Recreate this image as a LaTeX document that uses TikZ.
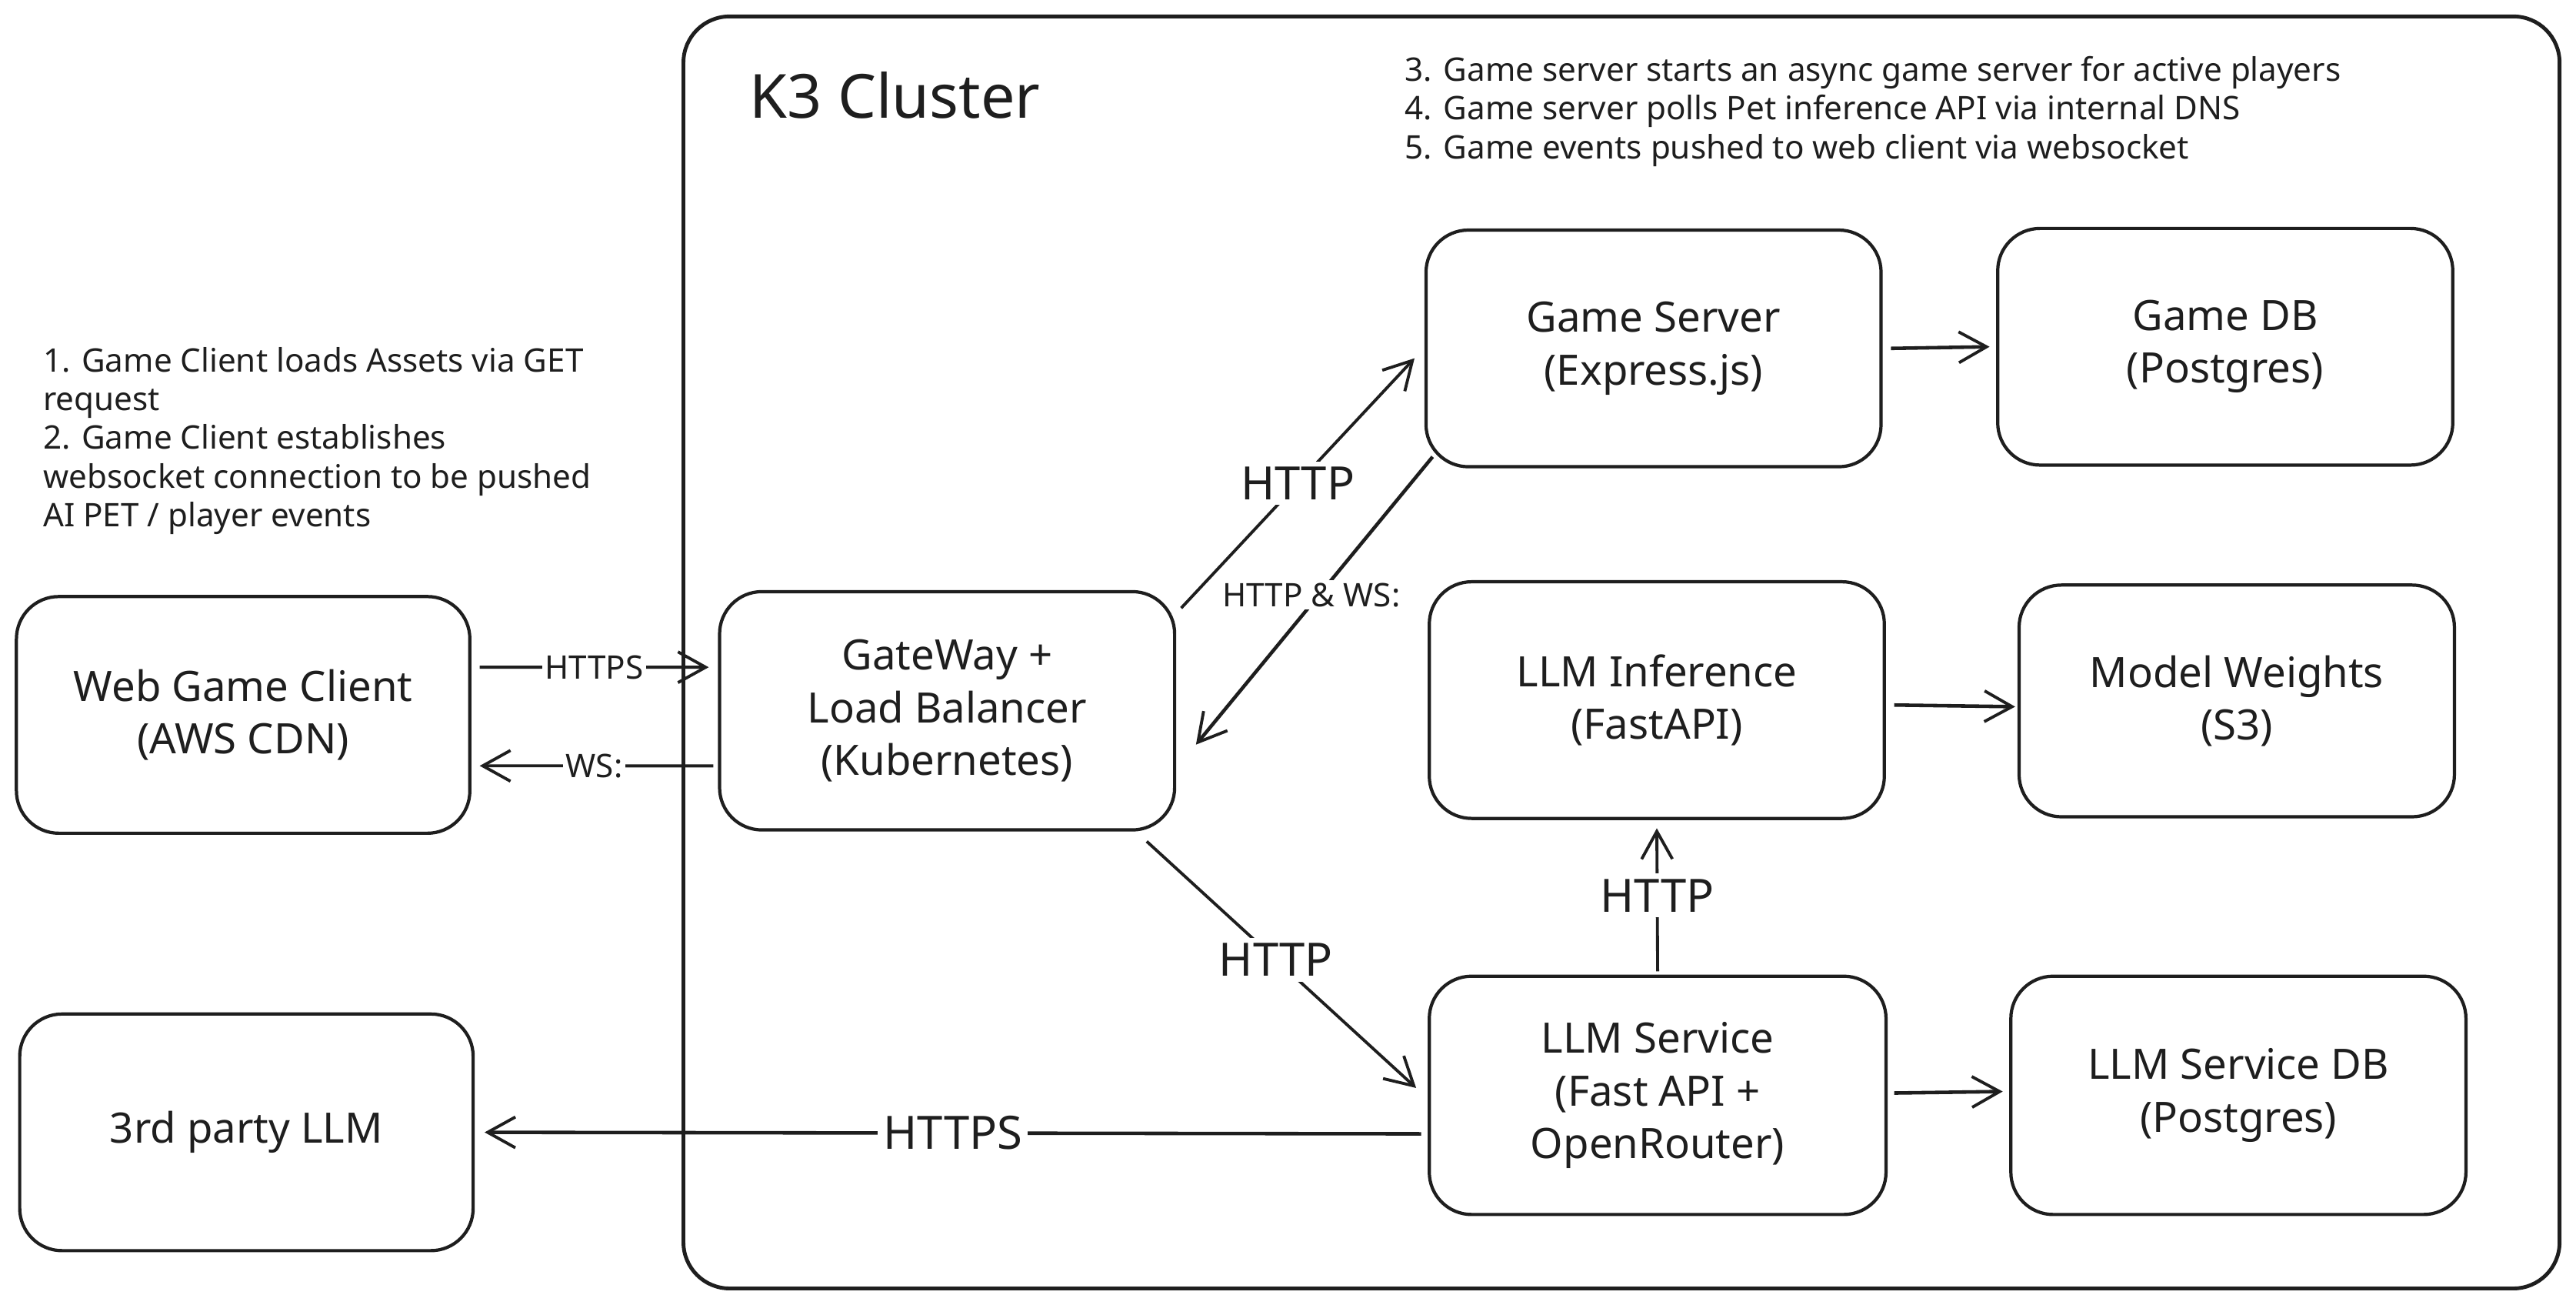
\documentclass[tikz,border=0pt]{standalone}
\usepackage{fontspec}
\setmainfont{Noto Sans}
\usetikzlibrary{arrows.meta}
\newlength\pxu
\setlength\pxu{0.2136mm}
\definecolor{ink}{HTML}{1E1E1E}
\begin{document}
\begin{tikzpicture}[x=0.2136mm, y=-0.2136mm,
  every node/.style={text=ink},
  box/.style={draw=ink, line width=1.2pt, rounded corners=5.5mm, align=center,
    font=\fontsize{15.5}{19.4}\selectfont, inner sep=0pt},
  conn/.style={draw=ink, line width=1.1pt,
    -{Straight Barb[length=3.6mm,width=4mm,line width=1.1pt]}},
  biglabel/.style={fill=white, font=\fontsize{17}{19}\selectfont, inner sep=2pt},
  smalllabel/.style={fill=white, font=\fontsize{12}{14}\selectfont, inner sep=1pt},
  note/.style={align=left, font=\fontsize{12}{14.3}\selectfont, inner sep=0pt}
]
\useasboundingbox (0,0) rectangle (1568,794);
\fill[white] (0,0) rectangle (1568,794);

% cluster
\node[draw=ink, line width=1.4pt, rounded corners=6mm, minimum width=1142\pxu,
  minimum height=774\pxu, inner sep=0pt] (cluster) at (987,397) {};
\node[anchor=west, font=\fontsize{22.5}{26}\selectfont, inner sep=0pt] (title) at (456,58) {K3 Cluster};

% notes
\node[note, anchor=north west] (notesA) at (26,211) {1. Game Client loads Assets via GET\\request\\2. Game Client establishes\\websocket connection to be pushed\\AI PET / player events};
\node[note, anchor=north west] (notesB) at (855,34) {3. Game server starts an async game server for active players\\4. Game server polls Pet inference API via internal DNS\\5. Game events pushed to web client via websocket};

% boxes
\node[box, minimum width=276\pxu, minimum height=144\pxu] (client) at (148,435) {Web Game Client\\(AWS CDN)};
\node[box, minimum width=276\pxu, minimum height=144\pxu] (third) at (150,689) {3rd party LLM};
\node[box, minimum width=277\pxu, minimum height=145\pxu] (gw) at (576.5,432.5) {GateWay +\\Load Balancer\\(Kubernetes)};
\node[box, minimum width=277\pxu, minimum height=144\pxu] (gs) at (1006.5,212) {Game Server\\(Express.js)};
\node[box, minimum width=277\pxu, minimum height=144\pxu] (gdb) at (1354.5,211) {Game DB\\(Postgres)};
\node[box, minimum width=277\pxu, minimum height=144\pxu] (inf) at (1008.5,426) {LLM Inference\\(FastAPI)};
\node[box, minimum width=265\pxu, minimum height=141\pxu] (mw) at (1361.5,426.5) {Model Weights\\(S3)};
\node[box, minimum width=278\pxu, minimum height=145\pxu] (svc) at (1009,666.5) {LLM Service\\(Fast API +\\OpenRouter)};
\node[box, minimum width=277\pxu, minimum height=145\pxu] (sdb) at (1362.5,666.5) {LLM Service DB\\(Postgres)};

% connectors
\draw[conn] ([xshift=1.07mm,yshift=6.2mm]client.east) -- node[smalllabel,pos=0.5]{HTTPS} ([xshift=-1.2mm,yshift=5.66mm]gw.west);
\draw[conn] ([xshift=-0.6mm,yshift=-7.16mm]gw.west) -- node[smalllabel,pos=0.51]{WS:} ([xshift=1.07mm,yshift=-6.62mm]client.east);
\draw[conn] ([xshift=0.64mm,yshift=13.35mm]gw.east) -- node[biglabel,pos=0.5]{HTTP} ([xshift=-1.28mm,yshift=-1.28mm]gs.west);
\draw[conn, line width=1.3pt] ([xshift=1.07mm,yshift=1.5mm]gs.south west) -- node[smalllabel,pos=0.48,xshift=-1mm]{HTTP \& WS:} ([xshift=2.56mm,yshift=-4.4mm]gw.east);
\draw[conn] ([xshift=-3.84mm,yshift=-1.28mm]gw.south east) -- node[biglabel,pos=0.48]{HTTP} ([xshift=-1.5mm,yshift=0.96mm]svc.west);
\draw[conn] ([yshift=0.43mm]svc.north) -- node[biglabel,pos=0.53]{HTTP} ([yshift=-1.07mm]inf.south);
\draw[conn, line width=1.3pt] ([xshift=1.07mm]gs.east) -- ([xshift=-0.85mm]gdb.west);
\draw[conn, line width=1.3pt] ([xshift=1.07mm,yshift=-0.64mm]inf.east) -- ([xshift=-0.3mm,yshift=-0.75mm]mw.west);
\draw[conn, line width=1.3pt] ([xshift=0.85mm,yshift=0.3mm]svc.east) -- ([xshift=-0.85mm,yshift=0.5mm]sdb.west);
\draw[conn, line width=1.3pt] ([xshift=-0.85mm,yshift=-5.0mm]svc.west) -- node[biglabel,pos=0.5]{HTTPS} ([xshift=1.28mm]third.east);
\end{tikzpicture}
\end{document}
